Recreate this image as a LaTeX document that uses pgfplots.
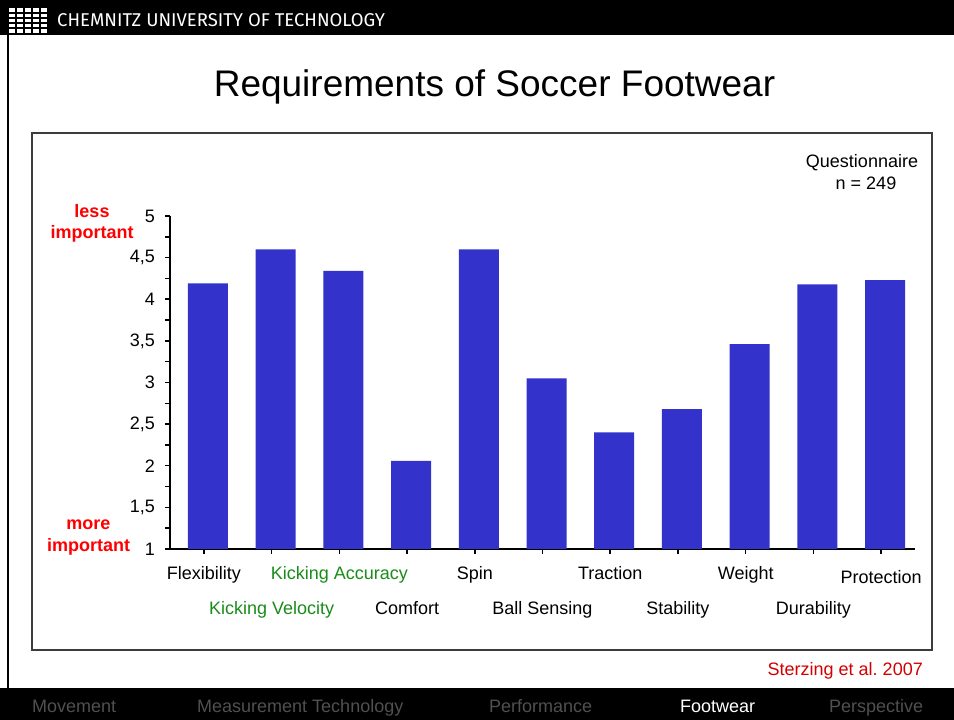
\documentclass[border=0pt]{standalone}
\usepackage{fontspec}
\setmainfont{Liberation Sans}
\newfontfamily\headfont{Fira Sans}
\usepackage{pgfplots}
\usepackage{pgfplotstable}
\pgfplotsset{compat=1.18}

\definecolor{barblue}{RGB}{51,51,204}
\definecolor{labgreen}{RGB}{25,140,25}
\definecolor{footgray}{RGB}{80,80,80}
\definecolor{refred}{RGB}{210,0,0}
\definecolor{boxgray}{RGB}{60,60,60}

% mean ratings (1 = more important, 5 = less important)
\pgfplotstableread{
idx value
0  4.19
1  4.60
2  4.34
3  2.06
4  4.60
5  3.05
6  2.40
7  2.68
8  3.46
9  4.18
10 4.23
}\ratings

\newcommand{\lab}{\fontsize{18}{21}\selectfont}
\newcommand{\low}[1]{\raisebox{-35pt}{#1}}

\begin{document}
\frenchspacing
\begin{tikzpicture}[x=1pt,y=1pt]
\path[use as bounding box] (0,0) rectangle (954,720);
\fill[white] (0,0) rectangle (954,720);

% header bar with logo
\fill[black] (0,685) rectangle (954,720);
\fill[white] (9,687) rectangle (47,712);
\foreach \yy in {692,697,702,707}
  \draw[black, line width=1.3pt] (9,\yy) -- (47,\yy);
\foreach \xx in {16,24,32,40}
  \draw[black, line width=1.1pt] (\xx,687) -- (\xx,712);
\node[anchor=base west, inner sep=0, text=white] at (57,693)
  {\headfont\fontsize{18.5}{22}\selectfont CHEMNITZ UNIVERSITY OF TECHNOLOGY};

% left slide border
\draw[black, line width=2pt] (8,32) -- (8,685);

% slide title
\node[anchor=base, inner sep=0] at (494.5,623)
  {\fontsize{37}{44}\selectfont Requirements of Soccer Footwear};

% chart frame
\draw[boxgray, line width=1.3pt] (32,70) rectangle (932,587);

% annotations
\node[anchor=base, inner sep=0] at (862,552) {\lab Questionnaire};
\node[anchor=base, inner sep=0] at (866,530) {\lab n = 249};
\node[anchor=base, inner sep=0, text=red] at (92,502) {\lab\bfseries less};
\node[anchor=base, inner sep=0, text=red] at (92,481) {\lab\bfseries important};
\node[anchor=base, inner sep=0, text=red] at (88.5,190) {\lab\bfseries more};
\node[anchor=base, inner sep=0, text=red] at (88.5,168) {\lab\bfseries important};

\begin{axis}[
  at={(170pt,171pt)}, anchor=south west,
  scale only axis, width=745pt, height=333pt,
  xmin=-0.5, xmax=10.5, ymin=1, ymax=5,
  axis x line=bottom, axis y line=left,
  axis line style={-, line width=2pt, black},
  tick align=outside,
  major tick length=5pt, minor tick length=5pt,
  every tick/.style={black, line width=1.5pt},
  ytick={1,1.5,...,5}, minor y tick num=1,
  xtick={0,...,10},
  xticklabels={
    Flexibility,
    \low{\textcolor{labgreen}{Kicking Velocity}},
    \textcolor{labgreen}{Kicking Accuracy},
    \low{Comfort},
    Spin,
    \low{Ball Sensing},
    Traction,
    \low{Stability},
    Weight,
    \low{Durability},
    \raisebox{-4pt}{Protection}},
  tick label style={font=\lab},
  xticklabel style={anchor=base, inner sep=0pt, yshift=-26pt},
  yticklabel style={anchor=east, inner sep=0pt, xshift=-10pt,
    /pgf/number format/.cd, use comma, fixed},
  /pgf/number format/assume math mode=true,
  ybar, bar width=40pt, bar shift=4pt,
]
\addplot[fill=barblue, draw=none] table[x=idx, y=value] {\ratings};
\end{axis}

\node[anchor=base east, inner sep=0, text=refred] at (923,44) {\lab Sterzing et al. 2007};

% footer navigation
\fill[black] (0,0) rectangle (954,32);
\node[anchor=base west, inner sep=0, text=footgray] at (32,7) {\lab Movement};
\node[anchor=base west, inner sep=0, text=footgray] at (197,7) {\lab Measurement Technology};
\node[anchor=base west, inner sep=0, text=footgray] at (489,7) {\lab Performance};
\node[anchor=base west, inner sep=0, text=white] at (680,7) {\lab Footwear};
\node[anchor=base west, inner sep=0, text=footgray] at (829,7) {\lab Perspective};
\end{tikzpicture}
\end{document}
